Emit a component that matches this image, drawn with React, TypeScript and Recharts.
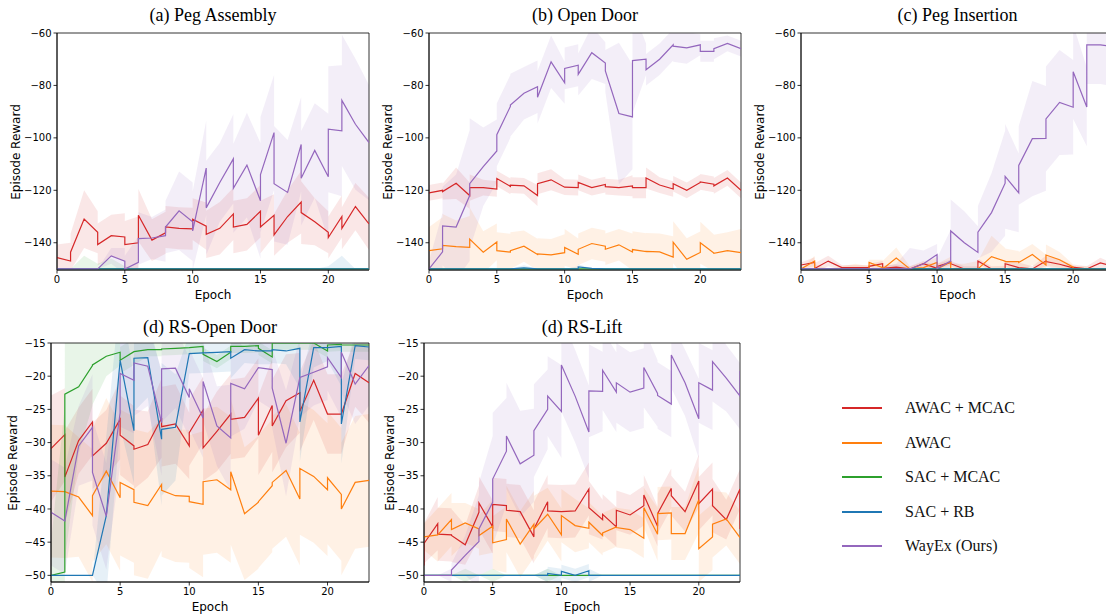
import { ComposedChart, Line, Area, XAxis, YAxis, ReferenceArea } from "recharts";

// evaluation epochs (repeated epochs = two evaluations logged in the same epoch)
const EPOCHS_TOP = [0, 1, 1, 2, 3, 3, 4, 5, 5, 6, 6, 7, 8, 8, 9, 10, 10, 11, 11, 12, 13, 13, 14, 15, 15, 16, 16, 17, 18, 18, 19, 20, 20, 21, 21, 22, 23, 23];
const EPOCHS_LIFT = [0, 0, 1, 1, 2, 2, 3, 4, 4, 5, 5, 6, 6, 7, 8, 8, 9, 9, 10, 10, 11, 12, 12, 13, 13, 14, 14, 15, 16, 16, 17, 17, 18, 18, 19, 20, 20, 21, 21, 22, 23, 23];

const X_TICKS = [0, 5, 10, 15, 20];
const Y_TICKS_TOP = [-140, -120, -100, -80, -60];
const Y_TICKS_RS = [-50, -45, -40, -35, -30, -25, -20, -15];

const LABELS = ["AWAC + MCAC", "AWAC", "SAC + MCAC", "SAC + RB", "WayEx (Ours)"];
const COLORS = ["#d62728", "#ff7f0e", "#2ca02c", "#1f77b4", "#9467bd"];

const FLOOR_TOP = [
  -150, -150, -150, -150, -150, -150, -150, -150, -150, -150,
  -150, -150, -150, -150, -150, -150, -150, -150, -150, -150,
  -150, -150, -150, -150, -150, -150, -150, -150, -150, -150,
  -150, -150, -150, -150, -150, -150, -150, -150,
];
const FLOOR_LIFT = [
  -50, -50, -50, -50, -50, -50, -50, -50, -50, -50,
  -50, -50, -50, -50, -50, -50, -50, -50, -50, -50,
  -50, -50, -50, -50, -50, -50, -50, -50, -50, -50,
  -50, -50, -50, -50, -50, -50, -50, -50, -50, -50,
  -50, -50,
];
const ZERO_SD = [0, 0, 0, 0, 0, 0, 0, 0, 0, 0, 0, 0, 0, 0, 0, 0, 0, 0, 0, 0, 0, 0, 0, 0];

// (a) Peg Assembly
const PA_AWAC_MCAC = [
  -145.7, -147, -143.6, -131, -136, -140.7, -137.3, -137.8, -140.7, -140,
  -129.5, -139, -136.2, -134, -134.5, -134.7, -131, -133.7, -136.8, -134.5,
  -129, -134, -133, -128, -134, -129.5, -137, -130, -124.5, -128.5,
  -132, -136, -138, -130, -134.5, -126.2, -132.8, -132.8,
];
const PA_WAYEX = [
  -150, -150, -150, -150, -150, -150, -145, -147, -150, -147.5,
  -138.4, -138.2, -137.3, -134, -127.8, -132, -135.5, -111.5, -126.7, -117,
  -108, -119.2, -110.4, -124, -114, -98, -117.5, -120.8, -102.5, -115.4,
  -104.8, -114.8, -96.7, -97.3, -85.7, -94.8, -101.8, -101.8,
];
const PA_AWAC_MCAC_SD = [5, 7, 11, 8, 8, 9, 10, 8, 8, 8, 8, 9, 10, 10, 10, 10, 8, 10, 12, 9, 8, 8, 9, 10];
const PA_WAYEX_SD = [0, 0, 0, 0, 3, 5, 10, 8, 10, 15, 15, 18, 15, 17, 20, 22, 22, 20, 18, 18, 24, 25, 25, 22];
const PA_SAC_MCAC_SD = [0, 0, 5, 2, 4, 1, 0, 0, 0, 0, 0, 0, 0, 0, 0, 0, 0, 0, 0, 0, 0, 0, 0, 0];
const PA_SAC_RB_SD = [0, 0, 0, 0, 0, 0, 0, 0, 0, 0, 0, 0, 0, 0, 0, 0, 0, 0, 0, 0, 1, 5, 0, 0];

// (b) Open Door
const OD_AWAC_MCAC = [
  -121, -120, -120.5, -117.3, -122, -119, -119, -119.5, -115.5, -118.5,
  -118, -118.3, -122, -117.5, -116, -118.8, -118.8, -119, -117, -119,
  -117.8, -118.6, -119, -118.3, -119, -119, -115.3, -118, -119.5, -117.5,
  -120, -117, -116.8, -117.7, -118.3, -115.3, -120, -120,
];
const OD_AWAC = [
  -143, -142.3, -141, -141.5, -141.8, -138.6, -143.6, -139.7, -143, -143.6,
  -143, -141.3, -144.5, -144.3, -144.6, -143.8, -141.8, -144.4, -142.5, -140.3,
  -141.3, -142.5, -140.8, -143.5, -142.6, -143.4, -143.3, -143.5, -145.5, -139.8,
  -146.3, -143.7, -140, -143.9, -144, -143, -143.8, -143.8,
];
const OD_SAC_RB = [
  -150, -150, -150, -150, -150, -150, -150, -150, -150, -150,
  -150, -149.6, -150, -150, -150, -150, -150, -150, -149.2, -149.8,
  -150, -150, -150, -150, -150, -150, -150, -150, -150, -150,
  -150, -150, -150, -150, -150, -150, -150, -150,
];
const OD_WAYEX = [
  -150, -143.5, -133.6, -134, -122, -117.5, -111, -105, -98.8, -88,
  -87.5, -83, -80.5, -84.5, -71, -79, -73.5, -72.3, -75.8, -67.5,
  -71.5, -74.5, -90.7, -92, -70.5, -70, -74, -70, -64.5, -65,
  -65.7, -64.5, -67, -67, -66, -64, -66, -66,
];
const OD_AWAC_MCAC_SD = [3, 3, 6, 5, 3, 3, 3, 3, 4, 4, 3, 3, 3, 3, 3, 4, 4, 3, 3, 3, 3, 3, 3, 3];
const OD_AWAC_SD = [9, 12, 10, 12, 8, 7, 7, 6, 6, 6, 7, 6, 6, 6, 6, 7, 7, 7, 8, 8, 8, 7, 7, 9];
const OD_SAC_RB_SD = [0, 0, 0, 0, 0, 0, 0, 1, 0, 0, 0, 1, 0, 0, 0, 0, 0, 0, 0, 0, 0, 0, 0, 0];
const OD_WAYEX_SD = [3, 15, 20, 25, 15, 12, 12, 10, 10, 10, 8, 8, 10, 8, 27, 20, 6, 6, 6, 6, 4, 4, 3, 3];

// (c) Peg Insertion
const PI_AWAC_MCAC = [
  -148.5, -147.5, -149.8, -147, -149.5, -149.5, -149.5, -149.5, -149, -148,
  -149.8, -149.3, -150, -150, -148, -149.8, -149, -147.5, -148, -150,
  -150, -147, -150, -149.8, -148, -149.5, -149.5, -150, -147, -147.2,
  -148.2, -149.6, -149.3, -150, -150, -147.7, -149, -149,
];
const PI_AWAC = [
  -150, -147, -150, -150, -150, -150, -150, -150, -147.5, -149.5,
  -150, -145.8, -150, -150, -149.5, -147.5, -150, -147.3, -150, -150,
  -150, -150, -145.3, -147, -147.2, -147.2, -147.5, -144.5, -148.5, -144.7,
  -146.5, -149.3, -150, -150, -150, -150, -150, -150,
];
const PI_WAYEX = [
  -150, -150, -150, -150, -150, -150, -150, -150, -150, -150,
  -150, -150, -150, -150, -148, -144.5, -149.8, -147, -135.5, -140,
  -143.7, -136, -128.5, -117.3, -114.7, -121, -110.5, -100.3, -100.2, -92.8,
  -86.5, -88.3, -74.8, -88.2, -64.5, -64.5, -65.3, -65.3,
];
const PI_AWAC_MCAC_SD = [1, 2, 2, 1, 1, 1, 1, 1, 1, 1, 1, 1, 1, 1, 1, 1, 2, 1, 2, 2, 1, 1, 2, 1];
const PI_AWAC_SD = [0, 2, 0, 1, 2, 1, 3, 4, 1, 2, 2, 2, 2, 3, 8, 5, 4, 4, 4, 3, 1, 1, 0, 0];
const PI_WAYEX_SD = [0, 0, 0, 0, 0, 0, 1, 2, 8, 5, 4, 12, 12, 10, 15, 20, 15, 22, 20, 20, 18, 15, 15, 15];

// (d) RS-Open Door
const RD_AWAC_MCAC = [
  -30.9, -28.8, -35.2, -29.7, -26.9, -32, -30.1, -26.5, -28.9, -30.5,
  -31, -30.3, -26.3, -27.6, -27.2, -30.5, -28.5, -25.1, -30.8, -28.3,
  -25.7, -26.5, -26.2, -23.3, -28.9, -24.4, -27.5, -23.7, -22.5, -25.3,
  -20.6, -25.7, -25.7, -25.7, -25.7, -19.6, -21, -21,
];
const RD_AWAC = [
  -37.3, -37.4, -37.4, -38.2, -41, -38, -34.3, -38.3, -36, -37.1,
  -39, -39.5, -36.3, -37.2, -38, -38.1, -38.9, -39.3, -35.9, -35.6,
  -37.1, -34.4, -40.7, -39, -38.9, -36.5, -36, -34.2, -38.5, -33.9,
  -35.1, -37.1, -35.3, -37.8, -40, -36, -35.7, -35.7,
];
const RD_SAC_MCAC = [
  -50, -49.5, -22.7, -21.6, -18.4, -18.3, -17, -16.4, -17.6, -16.3,
  -16.3, -16, -16, -15.9, -15.8, -15.7, -15.7, -15.5, -16.7, -17.8,
  -16.4, -15.5, -15.5, -15.4, -15.8, -17.1, -15, -15, -15, -15,
  -15, -16.2, -15.3, -15.2, -15.3, -15.3, -15.3, -15.3,
];
const RD_SAC_RB = [
  -50, -50, -50, -50, -50, -50, -41, -17.6, -17.6, -28.2,
  -17.3, -17.2, -29.5, -28, -27.7, -16.6, -16.6, -16.5, -16.5, -16.4,
  -16.3, -17.3, -16, -16.2, -16.2, -16.2, -16, -16.2, -15.8, -26.9,
  -15.7, -15.7, -15.7, -15.5, -27.2, -15.4, -15.6, -15.6,
];
const RD_WAYEX = [
  -40.5, -41.8, -41.8, -30.5, -27.7, -34.5, -41.1, -25.5, -19.6, -20.6,
  -18, -18.5, -27, -18.9, -18.8, -23.2, -21.9, -26.3, -20.8, -27.5,
  -29.3, -21.1, -21.9, -18.7, -18.7, -19, -21.8, -30.1, -20.2, -20.2,
  -19.4, -18.6, -17.2, -20.2, -16.4, -21.2, -18.4, -18.4,
];
const RD_AWAC_MCAC_SD = [8, 7, 5, 5, 5, 6, 6, 5, 6, 6, 5, 5, 6, 6, 6, 6, 7, 7, 6, 6, 6, 6, 5, 6];
const RD_AWAC_SD = [10, 10, 9, 10, 11, 11, 11, 11, 10, 10, 10, 11, 11, 11, 10, 10, 10, 10, 10, 10, 10, 10, 10, 10];
const RD_SAC_MCAC_SD = [5, 25, 10, 6, 3, 2, 2, 1, 1, 1, 1, 1, 1, 1, 1, 1, 1, 1, 1, 1, 1, 1, 1, 1];
const RD_SAC_RB_SD = [0, 0, 0, 0, 12, 10, 8, 6, 10, 8, 3, 3, 3, 3, 2, 2, 2, 2, 6, 3, 2, 6, 2, 2];
const RD_WAYEX_SD = [8, 8, 6, 8, 8, 8, 8, 6, 8, 6, 6, 6, 6, 8, 6, 5, 6, 8, 6, 5, 5, 6, 6, 6];

// (d) RS-Lift
const RL_AWAC_MCAC = [
  -48.5, -45.2, -42.2, -43.8, -43.9, -44, -45.4, -40.5, -39.1, -42.7,
  -39.3, -39.5, -40.2, -40.4, -44.2, -43, -38.9, -40.3, -40.4, -40.4,
  -40.3, -37, -39.8, -41.6, -40.8, -42.7, -40.2, -40.9, -39.5, -37.9,
  -42.6, -40.7, -36.9, -38, -40.4, -35.8, -39.2, -37, -39.5, -41.6,
  -37, -43,
];
const RL_AWAC = [
  -44.2, -44.2, -43.9, -43.9, -41.6, -43.1, -42.1, -43, -44, -42.6,
  -45.1, -44.6, -41.5, -45.3, -42.3, -43, -40.8, -40.8, -43.9, -41,
  -42.5, -42.9, -42, -44, -43.6, -42.7, -42.8, -43.1, -44.4, -39.8,
  -43.8, -40.7, -40.6, -43.7, -43.7, -38.6, -46, -44.2, -42.3, -41.5,
  -44.3, -44.3,
];
const RL_SAC_RB = [
  -50, -50, -50, -50, -50, -50, -50, -50, -50, -50,
  -50, -50, -50, -50, -50, -50, -50, -49.7, -50, -49.4,
  -50, -49.3, -50, -50, -50, -50, -50, -50, -50, -50,
  -50, -50, -50, -50, -50, -50, -50, -50, -50, -50,
  -50, -50,
];
const RL_WAYEX = [
  -50, -50, -50, -50, -50, -49.2, -47, -44.9, -43, -39,
  -35.5, -31.3, -29, -33.2, -31.9, -28.2, -25, -23, -25.3, -18.3,
  -23, -28.4, -22.2, -22.3, -19.1, -22.4, -21, -22.4, -21.8, -18.7,
  -22.6, -22.9, -24.2, -16.8, -21, -26.4, -21, -22.1, -17.8, -20.3,
  -23, -19.2,
];
const RL_AWAC_MCAC_SD = [3, 4, 4, 3, 4, 4, 4, 4, 4, 4, 4, 4, 4, 3, 3, 3, 3, 3, 3, 3, 4, 4, 3, 3];
const RL_AWAC_SD = [2, 4, 4, 3, 3, 4, 5, 5, 5, 4, 4, 4, 3, 3, 3, 3, 3, 4, 4, 4, 5, 5, 4, 4];
const RL_SAC_MCAC_SD = [0, 0, 0, 1, 0, 1, 0, 0, 0, 1, 0, 0, 0, 0, 0, 0, 0, 0, 0, 0, 0, 0, 0, 0];
const RL_SAC_RB_SD = [0, 0, 0, 0, 0, 0, 0, 0, 0, 1, 1, 1, 1, 0, 0, 0, 0, 0, 0, 0, 0, 0, 0, 0];
const RL_WAYEX_SD = [0, 0, 1, 3, 7, 10, 8, 8, 7, 6, 7, 7, 7, 6, 6, 6, 6, 5, 5, 5, 6, 6, 5, 5];

type Series = { values: number[]; sd: number[] };

type PanelProps = {
  title: string;
  epochs: number[];
  series: Series[];
  yDomain: [number, number];
  yTicks: number[];
  left: number;
  top: number;
  width: number;
  height: number;
  yLabelX: number;
  titleY: number;
};

const fmtTick = (v: number) => (v < 0 ? `\u2212${Math.abs(v)}` : `${v}`);
const tickStyle = { fontSize: 10, fill: "#000", fontFamily: "DejaVu Sans" };

function Panel({ title, epochs, series, yDomain, yTicks, left, top, width, height, yLabelX, titleY }: PanelProps) {
  const rows = epochs.map((x, i) => {
    const row: Record<string, unknown> = { x };
    series.forEach((s, k) => {
      const v = s.values[i];
      const d = s.sd[x];
      row[`m${k}`] = v;
      row[`b${k}`] = [v - d, v + d];
    });
    return row;
  });
  const ML = 50;
  const MT = 6;
  const MR = 12;
  const XH = 36;
  return (
    <>
      <div style={{ position: "absolute", left: left - ML, top: top - MT }}>
        <ComposedChart
          width={ML + width + MR}
          height={MT + height + XH}
          data={rows}
          margin={{ top: MT, right: MR, bottom: 0, left: 0 }}
        >
          <XAxis
            dataKey="x"
            type="number"
            domain={[0, 23]}
            ticks={X_TICKS}
            allowDataOverflow
            height={XH}
            tickSize={3.5}
            tickMargin={2}
            tick={tickStyle}
            axisLine={{ stroke: "#000", strokeWidth: 0.8 }}
            tickLine={{ stroke: "#000", strokeWidth: 0.8 }}
            label={{ value: "Epoch", position: "insideBottom", offset: 7, fontSize: 12, fill: "#000", fontFamily: "DejaVu Sans" }}
          />
          <YAxis
            type="number"
            domain={yDomain}
            ticks={yTicks}
            allowDataOverflow
            width={ML}
            tickSize={3.5}
            tickMargin={2}
            tick={tickStyle}
            tickFormatter={fmtTick}
            axisLine={{ stroke: "#000", strokeWidth: 0.8 }}
            tickLine={{ stroke: "#000", strokeWidth: 0.8 }}
          />
          {series.map((_, k) => (
            <Area
              key={`b${k}`}
              type="linear"
              dataKey={`b${k}`}
              stroke="none"
              fill={COLORS[k]}
              fillOpacity={0.11}
              dot={false}
              activeDot={false}
              isAnimationActive={false}
            />
          ))}
          {series.map((_, k) => (
            <Line
              key={`m${k}`}
              type="linear"
              dataKey={`m${k}`}
              stroke={COLORS[k]}
              strokeWidth={1.2}
              dot={false}
              activeDot={false}
              isAnimationActive={false}
            />
          ))}
          <ReferenceArea
            x1={0}
            x2={23}
            y1={yDomain[0]}
            y2={yDomain[1]}
            fill="none"
            stroke="#000"
            strokeWidth={0.8}
            ifOverflow="visible"
          />
        </ComposedChart>
      </div>
      <div
        style={{
          position: "absolute",
          left,
          width,
          top: titleY - 11,
          lineHeight: "22px",
          textAlign: "center",
          fontFamily: "Liberation Serif",
          fontSize: 18,
          color: "#000",
        }}
      >
        {title}
      </div>
      <div
        style={{
          position: "absolute",
          left: yLabelX,
          top: top + height / 2,
          transform: "translate(-50%, -50%) rotate(-90deg)",
          whiteSpace: "nowrap",
          fontFamily: "DejaVu Sans",
          fontSize: 12,
          color: "#000",
        }}
      >
        Episode Reward
      </div>
    </>
  );
}

const LEGEND_Y = [408, 443, 477, 512, 546];

export default function App() {
  return (
    <div
      style={{
        position: "absolute",
        left: 0,
        top: 0,
        width: 1106,
        height: 614,
        overflow: "hidden",
        background: "#fff",
      }}
    >
      <Panel
        title="(a) Peg Assembly"
        epochs={EPOCHS_TOP}
        series={[
          { values: PA_AWAC_MCAC, sd: PA_AWAC_MCAC_SD },
          { values: FLOOR_TOP, sd: ZERO_SD },
          { values: FLOOR_TOP, sd: PA_SAC_MCAC_SD },
          { values: FLOOR_TOP, sd: PA_SAC_RB_SD },
          { values: PA_WAYEX, sd: PA_WAYEX_SD },
        ]}
        yDomain={[-150.4, -60]}
        yTicks={Y_TICKS_TOP}
        left={57}
        top={33}
        width={312}
        height={237}
        yLabelX={16}
        titleY={15}
      />
      <Panel
        title="(b) Open Door"
        epochs={EPOCHS_TOP}
        series={[
          { values: OD_AWAC_MCAC, sd: OD_AWAC_MCAC_SD },
          { values: OD_AWAC, sd: OD_AWAC_SD },
          { values: FLOOR_TOP, sd: ZERO_SD },
          { values: OD_SAC_RB, sd: OD_SAC_RB_SD },
          { values: OD_WAYEX, sd: OD_WAYEX_SD },
        ]}
        yDomain={[-150.4, -60]}
        yTicks={Y_TICKS_TOP}
        left={429}
        top={33}
        width={312}
        height={237}
        yLabelX={388}
        titleY={15}
      />
      <Panel
        title="(c) Peg Insertion"
        epochs={EPOCHS_TOP}
        series={[
          { values: PI_AWAC_MCAC, sd: PI_AWAC_MCAC_SD },
          { values: PI_AWAC, sd: PI_AWAC_SD },
          { values: FLOOR_TOP, sd: ZERO_SD },
          { values: FLOOR_TOP, sd: ZERO_SD },
          { values: PI_WAYEX, sd: PI_WAYEX_SD },
        ]}
        yDomain={[-150.4, -60]}
        yTicks={Y_TICKS_TOP}
        left={801}
        top={33}
        width={313}
        height={237}
        yLabelX={760}
        titleY={15}
      />
      <Panel
        title="(d) RS-Open Door"
        epochs={EPOCHS_TOP}
        series={[
          { values: RD_AWAC_MCAC, sd: RD_AWAC_MCAC_SD },
          { values: RD_AWAC, sd: RD_AWAC_SD },
          { values: RD_SAC_MCAC, sd: RD_SAC_MCAC_SD },
          { values: RD_SAC_RB, sd: RD_SAC_RB_SD },
          { values: RD_WAYEX, sd: RD_WAYEX_SD },
        ]}
        yDomain={[-51, -15]}
        yTicks={Y_TICKS_RS}
        left={51}
        top={343}
        width={318}
        height={239}
        yLabelX={13}
        titleY={327}
      />
      <Panel
        title="(d) RS-Lift"
        epochs={EPOCHS_LIFT}
        series={[
          { values: RL_AWAC_MCAC, sd: RL_AWAC_MCAC_SD },
          { values: RL_AWAC, sd: RL_AWAC_SD },
          { values: FLOOR_LIFT, sd: RL_SAC_MCAC_SD },
          { values: RL_SAC_RB, sd: RL_SAC_RB_SD },
          { values: RL_WAYEX, sd: RL_WAYEX_SD },
        ]}
        yDomain={[-51, -15]}
        yTicks={Y_TICKS_RS}
        left={424}
        top={343}
        width={316}
        height={239}
        yLabelX={390}
        titleY={327}
      />
      {LABELS.map((label, k) => (
        <div key={label}>
          <div
            style={{
              position: "absolute",
              left: 842,
              top: LEGEND_Y[k] - 1.25,
              width: 40,
              height: 2.5,
              background: COLORS[k],
            }}
          />
          <div
            style={{
              position: "absolute",
              left: 905,
              top: LEGEND_Y[k] - 11,
              lineHeight: "22px",
              fontFamily: "Liberation Serif",
              fontSize: 16,
              color: "#111",
              whiteSpace: "nowrap",
            }}
          >
            {label}
          </div>
        </div>
      ))}
    </div>
  );
}
